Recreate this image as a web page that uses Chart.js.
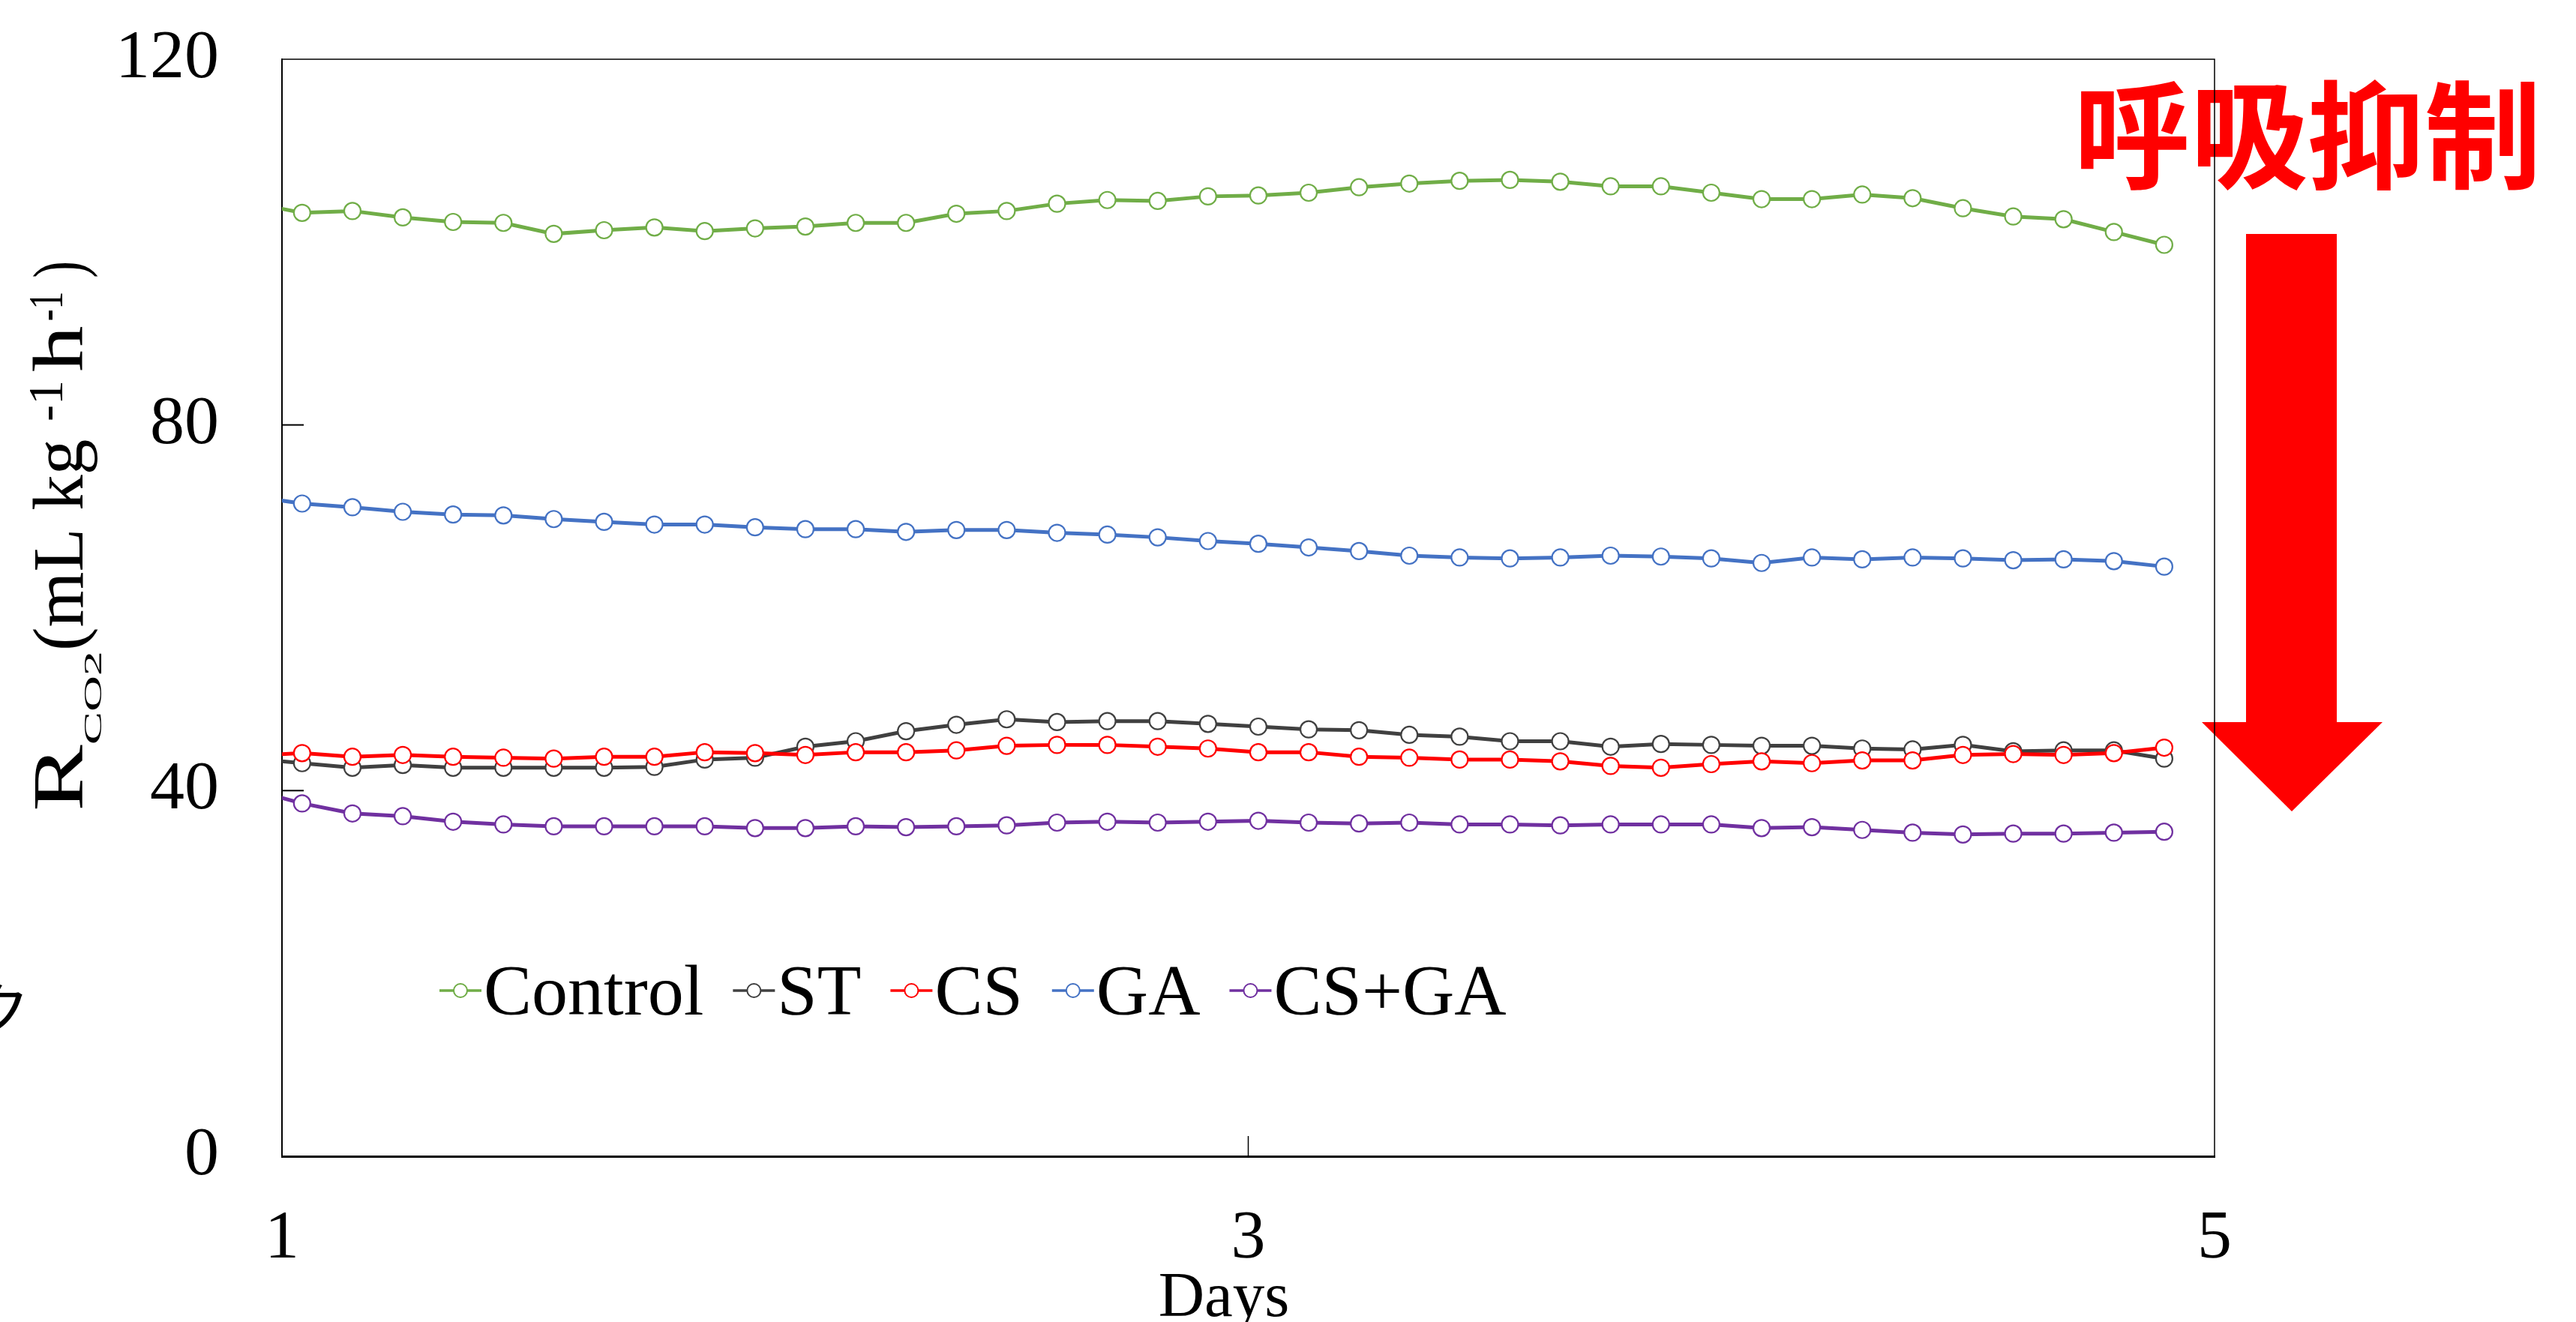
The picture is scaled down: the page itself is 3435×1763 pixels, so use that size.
<!DOCTYPE html>
<html>
<head>
<meta charset="utf-8">
<script src="https://cdn.jsdelivr.net/npm/chart.js@4.4.0/dist/chart.umd.min.js"></script>
<style>
  html, body { margin: 0; padding: 0; background: #fff; }
  canvas { display: block; }
</style>
</head>
<body>
<canvas id="chartResp" width="3435" height="1763"></canvas>
<script>
// sampling times in hours after day 1 (first one sits left of the axis and is cut off)
const HOURS = [-1.5, 1, 3.5, 6, 8.5, 11, 13.5, 16, 18.5, 21, 23.5, 26, 28.5, 31, 33.5, 36, 38.5, 41, 43.5,
  46, 48.5, 51, 53.5, 56, 58.5, 61, 63.5, 66, 68.5, 71, 73.5, 76, 78.5, 81, 83.5, 86, 88.5, 91, 93.5];

const CONTROL = [104.3, 103.2, 103.4, 102.7, 102.2, 102.1, 100.9, 101.3, 101.6, 101.2, 101.5, 101.7, 102.1, 102.1,
  103.1, 103.4, 104.2, 104.6, 104.5, 105.0, 105.1, 105.4, 106.0, 106.4, 106.7, 106.8, 106.6, 106.1, 106.1,
  105.4, 104.7, 104.7, 105.2, 104.8, 103.7, 102.8, 102.5, 101.1, 99.7];
const ST = [43.5, 43.0, 42.5, 42.8, 42.5, 42.5, 42.5, 42.5, 42.6, 43.4, 43.6, 44.8, 45.4, 46.5, 47.2, 47.8, 47.5,
  47.6, 47.6, 47.3, 47.0, 46.7, 46.6, 46.1, 45.9, 45.4, 45.4, 44.8, 45.1, 45.0, 44.9, 44.9, 44.6, 44.5, 45.0,
  44.3, 44.4, 44.4, 43.5];
const CS = [43.8, 44.1, 43.7, 43.9, 43.7, 43.6, 43.5, 43.7, 43.7, 44.2, 44.1, 43.9, 44.2, 44.2, 44.4, 44.9, 45.0,
  45.0, 44.8, 44.6, 44.2, 44.2, 43.7, 43.6, 43.4, 43.4, 43.2, 42.7, 42.5, 42.9, 43.2, 43.0, 43.3, 43.3, 43.9,
  44.0, 43.9, 44.1, 44.7];
const GA = [72.2, 71.4, 71.0, 70.5, 70.2, 70.1, 69.7, 69.4, 69.1, 69.1, 68.8, 68.6, 68.6, 68.3, 68.5, 68.5, 68.2,
  68.0, 67.7, 67.3, 67.0, 66.6, 66.2, 65.7, 65.5, 65.4, 65.5, 65.7, 65.6, 65.4, 64.9, 65.5, 65.3, 65.5, 65.4,
  65.2, 65.3, 65.1, 64.5];
const CS_GA = [40.1, 38.6, 37.5, 37.2, 36.6, 36.3, 36.1, 36.1, 36.1, 36.1, 35.9, 35.9, 36.1, 36.0, 36.1, 36.2,
  36.5, 36.6, 36.5, 36.6, 36.7, 36.5, 36.4, 36.5, 36.3, 36.3, 36.2, 36.3, 36.3, 36.3, 35.9, 36.0, 35.7, 35.4,
  35.2, 35.3, 35.3, 35.4, 35.5];

const SERIES_NAMES = ['Control', 'ST', 'CS', 'GA', 'CS+GA'];
const SERIES_VALUES = [CONTROL, ST, CS, GA, CS_GA];
const SERIES_COLORS = ['#70AD47', '#404040', '#FF0000', '#4472C4', '#7030A0'];

const X_TICKS = [1, 3, 5];
const Y_TICKS = [0, 40, 80, 120];

const SERIF = "'Liberation Serif', 'Times New Roman', serif";
const CJK = "'Noto Sans CJK JP', 'Noto Sans CJK SC', sans-serif";

const datasets = SERIES_NAMES.map((name, i) => ({
  label: name,
  data: HOURS.map((h, j) => ({ x: 1 + h / 24, y: SERIES_VALUES[i][j] })),
  borderColor: SERIES_COLORS[i],
  borderWidth: 5,
  pointRadius: 11,
  pointBorderWidth: 2.2,
  pointBackgroundColor: '#fff',
  pointBorderColor: SERIES_COLORS[i],
  tension: 0,
  clip: 0,
  order: SERIES_NAMES.length - i  // later series on top, like the original
}));

// white page, red note and arrow (under the frame)
const backdrop = {
  id: 'backdrop',
  beforeDraw(chart) {
    const ctx = chart.ctx;
    ctx.save();
    ctx.fillStyle = '#fff';
    ctx.fillRect(0, 0, chart.width, chart.height);

    ctx.fillStyle = '#FF0000';
    ctx.beginPath();
    ctx.moveTo(2995, 312);
    ctx.lineTo(3116, 312);
    ctx.lineTo(3116, 963);
    ctx.lineTo(3177, 963);
    ctx.lineTo(3056, 1082);
    ctx.lineTo(2936, 963);
    ctx.lineTo(2995, 963);
    ctx.closePath();
    ctx.fill();

    ctx.font = `bold 156px ${CJK}`;
    ctx.textAlign = 'center';
    ctx.textBaseline = 'middle';
    ctx.fillText('呼吸抑制', 3077, 180);

    ctx.fillStyle = '#000';
    ctx.font = `80px ${CJK}`;
    ctx.textAlign = 'right';
    ctx.fillText('ク', 40, 1346);
    ctx.restore();
  }
};

const frame = {
  id: 'frame',
  afterDraw(chart) {
    const { ctx, chartArea: a, scales: { x, y } } = chart;
    ctx.save();
    ctx.strokeStyle = '#000';
    ctx.lineWidth = 1.5;
    ctx.beginPath();
    ctx.moveTo(a.left, a.top);
    ctx.lineTo(a.right, a.top);
    ctx.lineTo(a.right, a.bottom);
    ctx.stroke();

    // tick marks point inward
    ctx.lineWidth = 2;
    Y_TICKS.slice(1, -1).forEach(v => {
      const py = y.getPixelForValue(v);
      ctx.beginPath();
      ctx.moveTo(a.left, py);
      ctx.lineTo(a.left + 29, py);
      ctx.stroke();
    });
    ctx.lineWidth = 1.5;
    X_TICKS.slice(1, -1).forEach(v => {
      const px = x.getPixelForValue(v);
      ctx.beginPath();
      ctx.moveTo(px, a.bottom);
      ctx.lineTo(px, a.bottom - 27);
      ctx.stroke();
    });

    // x title
    ctx.fillStyle = '#000';
    ctx.font = `85px ${SERIF}`;
    ctx.textAlign = 'center';
    ctx.textBaseline = 'alphabetic';
    ctx.fillText('Days', 1632, 1755);

    // y title, R_CO2 (mL kg-1 h-1), read bottom to top
    const parts = [
      { t: 'R', size: 95, rise: 0, sx: 1.4, gap: 0 },
      { t: 'CO2', size: 34, rise: -25, sx: 1.95, gap: 0 },
      { t: '(mL kg ', size: 95, rise: 0, sx: 1, gap: 0 },
      { t: '-1', size: 66, rise: 27, sx: 1, gap: 0 },
      { t: 'h', size: 95, rise: 0, sx: 1.3, gap: 11 },
      { t: '-1', size: 66, rise: 27, sx: 0.72, gap: 6 },
      { t: ')', size: 95, rise: 0, sx: 0.72, gap: 18 }
    ];
    ctx.translate(110, 1082);
    ctx.rotate(-Math.PI / 2);
    ctx.textAlign = 'left';
    let pen = 0;
    parts.forEach(p => {
      pen += p.gap;
      ctx.font = `${p.size}px ${SERIF}`;
      ctx.save();
      ctx.translate(pen, -p.rise);
      ctx.scale(p.sx, 1);
      ctx.fillText(p.t, 0, 0);
      ctx.restore();
      pen += ctx.measureText(p.t).width * p.sx;
    });
    ctx.restore();

    // legend inside the plot
    ctx.save();
    ctx.font = `96px ${SERIF}`;
    ctx.textBaseline = 'alphabetic';
    let cx = 586;
    const cy = 1321;
    SERIES_NAMES.forEach((name, i) => {
      ctx.strokeStyle = SERIES_COLORS[i];
      ctx.lineWidth = 3.5;
      ctx.beginPath();
      ctx.moveTo(cx, cy);
      ctx.lineTo(cx + 56, cy);
      ctx.stroke();
      ctx.beginPath();
      ctx.arc(cx + 28, cy, 9, 0, Math.PI * 2);
      ctx.fillStyle = '#fff';
      ctx.fill();
      ctx.lineWidth = 2;
      ctx.stroke();
      ctx.fillStyle = '#000';
      ctx.fillText(name, cx + 59, 1353);
      cx += 59 + ctx.measureText(name).width + 39;
    });
    ctx.restore();
  }
};

const ctx = document.getElementById('chartResp').getContext('2d');
new Chart(ctx, {
  type: 'line',
  data: { datasets },
  plugins: [backdrop, frame],
  options: {
    responsive: false,
    animation: false,
    devicePixelRatio: 1,
    layout: { padding: { left: 0, top: 79, right: 482, bottom: 0 } },
    plugins: { legend: { display: false }, tooltip: { enabled: false } },
    scales: {
      x: {
        type: 'linear',
        min: 1,
        max: 5,
        afterBuildTicks: s => { s.ticks = X_TICKS.map(v => ({ value: v })); },
        afterFit: s => { s.height = 221; s.paddingLeft = 0; s.paddingRight = 0; },
        grid: { display: false, drawTicks: false },
        border: { display: true, color: '#000', width: 3 },
        ticks: { font: { family: SERIF, size: 92 }, color: '#000', padding: 56, maxRotation: 0, autoSkip: false }
      },
      y: {
        type: 'linear',
        min: 0,
        max: 120,
        afterBuildTicks: s => { s.ticks = Y_TICKS.map(v => ({ value: v })); },
        afterFit: s => { s.width = 376; s.paddingTop = 0; s.paddingBottom = 0; },
        grid: { display: false, drawTicks: false },
        border: { display: true, color: '#000', width: 2 },
        ticks: { font: { family: SERIF, size: 92 }, color: '#000', padding: 84 }
      }
    }
  }
});
</script>
</body>
</html>
